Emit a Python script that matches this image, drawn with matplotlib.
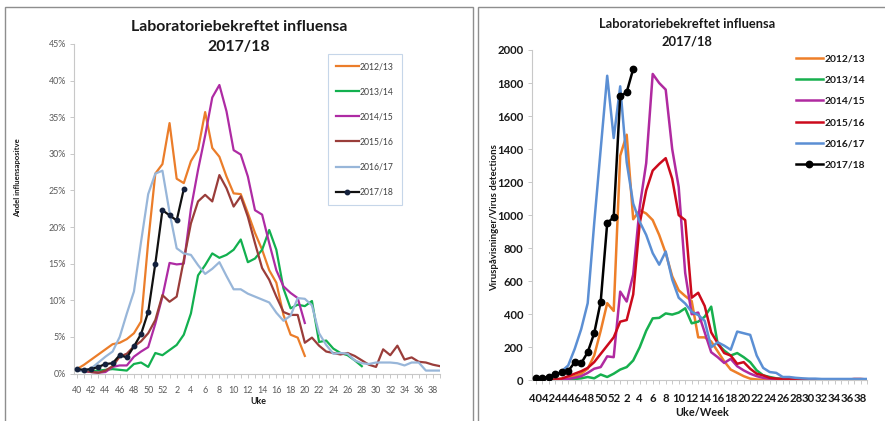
import numpy as np
import matplotlib
matplotlib.use("Agg")
import matplotlib.pyplot as plt
from matplotlib.patches import Rectangle

plt.rcParams['font.family'] = ['Lato', 'DejaVu Sans']

# ---------------- data ----------------
weeks = list(range(40, 53)) + list(range(1, 40))          # 52 categories
tick_idx = list(range(0, 52, 2))
tick_labels = [str(weeks[i]) for i in tick_idx]
seasons = ["2012/13", "2013/14", "2014/15", "2015/16", "2016/17", "2017/18"]

# Left: share positive (%)
pct_1213 = [0.6, 1.2, 1.9, 2.6, 3.3, 4.0, 4.2, 4.7, 5.5, 7.1, 18.0, 27.3, 28.6, 34.2, 26.6, 26.0,
            29.0, 30.6, 35.7, 30.8, 29.6, 26.9, 24.6, 24.5, 21.9, 19.2, 16.9, 14.1, 12.4, 8.0,
            5.3, 4.9, 2.4]
pct_1314 = [0.4, 0.3, 0.3, 0.4, 0.5, 0.6, 0.5, 0.4, 1.3, 1.5, 0.9, 2.8, 2.5, 3.2, 3.9, 5.3, 8.2,
            13.4, 14.8, 16.4, 15.8, 16.2, 16.9, 18.3, 15.2, 15.7, 16.9, 19.6, 16.9, 11.6, 8.9,
            9.4, 9.2, 9.9, 4.3, 4.5, 3.4, 2.8, 2.5, 1.8, 1.0]
pct_1415 = [0.5, 0.3, 0.2, 0.1, 0.2, 0.9, 1.1, 1.1, 2.3, 3.0, 3.6, 6.8, 10.5, 15.1, 14.9, 15.0,
            22.5, 27.8, 32.5, 37.7, 39.4, 35.8, 30.5, 29.9, 26.9, 22.3, 21.7, 17.8, 14.1, 11.9,
            11.0, 10.3, 6.9]
pct_1516 = [0.5, 0.4, 0.2, 0.1, 0.4, 1.0, 2.3, 2.7, 3.7, 4.4, 5.5, 7.3, 10.7, 9.8, 10.5, 15.5,
            20.5, 23.5, 24.4, 23.5, 27.1, 25.3, 22.8, 24.2, 21.4, 17.8, 14.4, 12.8, 10.5, 8.4,
            8.0, 8.0, 4.2, 4.9, 3.8, 3.0, 2.8, 2.6, 2.8, 2.4, 1.8, 1.2, 0.9, 3.3, 2.5, 3.8,
            1.9, 2.2, 1.6, 1.5, 1.2, 1.0]
pct_1617 = [0.5, 0.3, 0.7, 1.5, 2.3, 3.0, 5.0, 8.2, 11.2, 18.0, 24.5, 27.3, 27.7, 22.0, 17.1,
            16.4, 16.2, 14.8, 13.6, 14.3, 15.2, 13.3, 11.5, 11.5, 10.9, 10.5, 10.1, 9.7, 8.3,
            7.2, 7.9, 10.3, 10.2, 9.3, 5.5, 3.9, 2.7, 2.8, 2.7, 1.8, 1.4, 1.3, 1.5, 1.5, 1.5,
            1.4, 1.1, 1.5, 1.5, 0.4, 0.4, 0.4]
pct_1718 = [0.6, 0.5, 0.6, 0.9, 1.3, 1.4, 2.5, 2.2, 3.7, 5.4, 8.4, 15.0, 22.3, 21.6, 20.9, 25.2]

# Right: virus detections (count)
det_1213 = [0, 0, 2, 5, 10, 15, 25, 40, 70, 150, 300, 467, 420, 1360, 1487, 975, 1030, 1010,
            970, 880, 770, 630, 545, 510, 480, 260, 260, 235, 175, 115, 65, 45, 25, 10, 5, 3,
            2, 2, 1, 1, 1, 1, 0, 0, 0, 0, 0, 0, 0, 0, 0, 0]
det_1314 = [0, 0, 0, 2, 3, 5, 8, 12, 20, 12, 35, 20, 40, 65, 80, 120, 200, 300, 375, 378, 405,
            398, 410, 436, 345, 355, 385, 446, 220, 180, 150, 165, 140, 110, 60, 30, 20, 12,
            8, 5, 5, 4, 3, 3, 2, 2, 2, 2, 2, 2, 2, 2]
det_1415 = [0, 0, 0, 2, 5, 8, 15, 25, 45, 70, 80, 145, 140, 537, 477, 640, 1050, 1315, 1855,
            1800, 1760, 1400, 1170, 650, 400, 410, 290, 170, 140, 105, 130, 85, 60, 40, 25,
            15, 10, 8, 5, 5, 4, 4, 3, 3, 3, 3, 3, 3, 3, 3, 3, 3]
det_1516 = [0, 0, 2, 5, 10, 25, 40, 55, 75, 110, 160, 210, 260, 355, 365, 520, 950, 1150,
            1270, 1310, 1345, 1220, 1000, 970, 500, 530, 450, 290, 225, 165, 150, 100, 110,
            70, 40, 30, 15, 10, 8, 6, 5, 5, 4, 4, 4, 4, 4, 4, 4, 8, 8, 5]
det_1617 = [5, 8, 12, 25, 55, 90, 190, 310, 467, 950, 1400, 1844, 1467, 1780, 1320, 1070, 960,
            880, 770, 700, 780, 610, 500, 465, 415, 395, 360, 200, 230, 210, 185, 295, 285,
            275, 150, 75, 50, 45, 20, 20, 15, 12, 10, 10, 8, 8, 8, 8, 8, 8, 8, 8]
det_1718 = [12, 13, 22, 36, 48, 56, 109, 103, 170, 285, 476, 951, 988, 1719, 1745, 1885]

left_series = [pct_1213, pct_1314, pct_1415, pct_1516, pct_1617, pct_1718]
right_series = [det_1213, det_1314, det_1415, det_1516, det_1617, det_1718]

left_colors = ['#EB7D2A', '#12B04F', '#AE2BA4', '#9A3D3A', '#98B6D9', '#111111']
right_colors = ['#EE7F28', '#17B04E', '#B02AA0', '#CC0A1C', '#5B8FD4', '#000000']

# ---------------- figure ----------------
W, H = 885, 421
fig = plt.figure(figsize=(W / 100, H / 100), dpi=100)
fig.patch.set_facecolor('white')


def fx(x):
    return x / W


def fy(y):
    return 1 - y / H


# panel borders
fig.add_artist(Rectangle((fx(5), fy(440)), fx(468), (440 - 7) / H, transform=fig.transFigure,
                         fill=False, edgecolor='#8E8E8E', linewidth=1.0))
fig.add_artist(Rectangle((fx(478), fy(440)), fx(430), (440 - 7) / H, transform=fig.transFigure,
                         fill=False, edgecolor='#8E8E8E', linewidth=1.0))

# ---------- left axes ----------
lx0, lx1 = 74.15, 440.1
ly0, ly1 = 44.0, 373.5
axL = fig.add_axes([fx(lx0), fy(ly1), (lx1 - lx0) / W, (ly1 - ly0) / H])
for i, (vals, col, lab) in enumerate(zip(left_series, left_colors, seasons)):
    x = np.arange(len(vals))
    y = np.array(vals) / 100.0
    if lab == "2017/18":
        axL.plot(x, y, color=col, lw=1.6, marker='o', ms=3.2, mfc='#14213D', mec='#14213D',
                 label=lab, solid_joinstyle='round', zorder=5)
    else:
        axL.plot(x, y, color=col, lw=1.6, label=lab, solid_joinstyle='round')
axL.set_xlim(-0.4, 51)
axL.set_ylim(0, 0.45)
axL.set_yticks(np.arange(0, 0.451, 0.05))
axL.set_yticklabels([f"{int(round(v * 100))}%" for v in np.arange(0, 0.451, 0.05)])
axL.set_xticks(tick_idx)
axL.set_xticklabels(tick_labels)
axL.set_xticks(range(52), minor=True)
for s in ['top', 'right']:
    axL.spines[s].set_visible(False)
for s in ['left', 'bottom']:
    axL.spines[s].set_color('#C8C8C8')
    axL.spines[s].set_linewidth(0.8)
axL.tick_params(axis='both', which='both', colors='#C8C8C8', labelcolor='#595959',
                labelsize=6.4, length=3, width=0.7, pad=3)
axL.tick_params(axis='x', which='major', pad=6)
axL.set_facecolor('none')
leg = axL.legend(loc='upper left', bbox_to_anchor=(fx(328), fy(54)),
                 bbox_transform=fig.transFigure, fontsize=6.2, frameon=True, fancybox=False,
                 edgecolor='#B8CCE4', handlelength=2.6, handletextpad=0.15, labelspacing=1.87,
                 borderpad=0.95, borderaxespad=0)
leg.get_frame().set_linewidth(0.8)
for t in leg.get_texts():
    t.set_color('#404040')

fig.text(fx(239), fy(27), "Laboratoriebekreftet influensa", ha='center', va='center',
         fontsize=11.4, fontweight='bold', color='#1A1A1A')
fig.text(fx(239), fy(47), "2017/18", ha='center', va='center', fontsize=11.4,
         fontweight='bold', color='#1A1A1A')
fig.text(fx(18), fy(178), "Andel influensapositve", rotation=90, ha='center', va='center',
         fontsize=5.6, fontweight='bold', color='#1A1A1A')
fig.text(fx(258), fy(401), "Uke", ha='center', va='center', fontsize=6.4, fontweight='bold',
         color='#1A1A1A')

# ---------- right axes ----------
rx0, rx1 = 531.8, 867.2
ry0, ry1 = 50.0, 380.3
axR = fig.add_axes([fx(rx0), fy(ry1), (rx1 - rx0) / W, (ry1 - ry0) / H])
for vals, col, lab in zip(right_series, right_colors, seasons):
    x = np.arange(len(vals))
    if lab == "2017/18":
        axR.plot(x, vals, color=col, lw=1.8, marker='o', ms=4.6, mfc=col, mec=col,
                 label=lab, solid_joinstyle='round', zorder=5)
    else:
        axR.plot(x, vals, color=col, lw=1.8, label=lab, solid_joinstyle='round')
axR.set_xlim(-0.6, 51)
axR.set_ylim(0, 2000)
axR.set_yticks(np.arange(0, 2001, 200))
axR.set_xticks(tick_idx)
axR.set_xticklabels(tick_labels)
axR.set_xticks(range(52), minor=True)
for s in ['top', 'right']:
    axR.spines[s].set_visible(False)
for s in ['left', 'bottom']:
    axR.spines[s].set_color('#C8C8C8')
    axR.spines[s].set_linewidth(0.8)
axR.tick_params(axis='both', which='both', colors='#C8C8C8', labelcolor='#1A1A1A',
                labelsize=8.2, length=3, width=0.7, pad=3)
axR.tick_params(axis='x', which='major', pad=6)
for t in axR.get_xticklabels() + axR.get_yticklabels():
    t.set_fontweight('bold')
axR.set_facecolor('none')
legR = axR.legend(loc='upper left', bbox_to_anchor=(fx(796), fy(54)),
                  bbox_transform=fig.transFigure, frameon=False,
                  handlelength=2.6, handletextpad=0.15, labelspacing=1.18, borderpad=0,
                  borderaxespad=0, prop={'weight': 'bold', 'size': 7.4})
for t in legR.get_texts():
    t.set_color('#1A1A1A')

fig.text(fx(687), fy(24), "Laboratoriebekreftet influensa", ha='center', va='center',
         fontsize=9.3, fontweight='bold', color='#1A1A1A')
fig.text(fx(687), fy(41), "2017/18", ha='center', va='center', fontsize=9.3,
         fontweight='bold', color='#1A1A1A')
fig.text(fx(495), fy(218), "Viruspåvisninger/Virus detections", rotation=90, ha='center',
         va='center', fontsize=6.9, fontweight='bold', color='#1A1A1A')
fig.text(fx(702), fy(412), "Uke/Week", ha='center', va='center', fontsize=7.8,
         fontweight='bold', color='#1A1A1A')

fig.savefig("out.png", dpi=100, facecolor='white')
